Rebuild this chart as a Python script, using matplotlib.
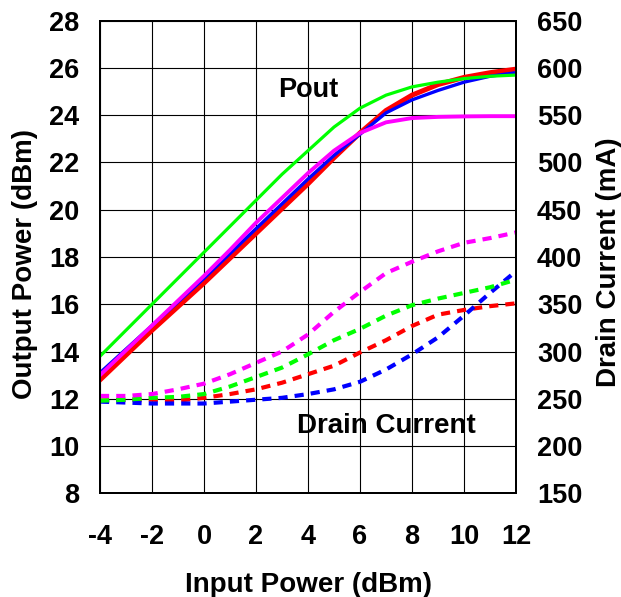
import numpy as np
import matplotlib
matplotlib.use("Agg")
import matplotlib.pyplot as plt

plt.rcParams['font.family'] = ['Liberation Sans', 'DejaVu Sans']
plt.rcParams['font.weight'] = 'bold'

# input power (dBm)
pin = [-4, -3, -2, -1, 0, 1, 2, 3, 4, 5, 6, 7, 8, 9, 10, 11, 12]

# output power (dBm), one per curve
pout_red = [12.8, 13.85, 14.9, 15.9, 16.9, 17.95, 19.0, 20.05, 21.1, 22.2, 23.25, 24.2, 24.85, 25.3, 25.6, 25.8, 25.95]
pout_blue = [13.1, 14.1, 15.1, 16.1, 17.1, 18.15, 19.2, 20.25, 21.3, 22.3, 23.2, 24.1, 24.65, 25.05, 25.4, 25.65, 25.8]
pout_magenta = [13.0, 14.05, 15.1, 16.15, 17.2, 18.3, 19.45, 20.5, 21.55, 22.5, 23.25, 23.7, 23.88, 23.93, 23.95, 23.96, 23.96]
pout_green = [13.8, 14.9, 16.0, 17.1, 18.2, 19.3, 20.4, 21.5, 22.5, 23.5, 24.3, 24.85, 25.2, 25.4, 25.55, 25.65, 25.7]

# drain current (mA)
id_red = [248, 249, 249, 248, 251, 255, 260, 267, 276, 285, 299, 312, 327, 339, 344, 348, 351]
id_blue = [247, 246, 245, 245, 245, 247, 249, 251, 255, 260, 268, 281, 297, 315, 338, 362, 385]
id_magenta = [253, 253, 255, 260, 266, 276, 288, 300, 318, 342, 363, 383, 395, 406, 415, 420, 426]
id_green = [248, 249, 251, 252, 255, 263, 273, 283, 297, 312, 324, 338, 349, 356, 362, 368, 376]

xticks = np.arange(-4, 13, 2)
yticks_left = np.arange(8, 29, 2)
yticks_right = np.arange(150, 651, 50)

fig = plt.figure(figsize=(6.21, 5.97), dpi=100)
ax = fig.add_axes([0.161, 0.1737, 0.670, 0.7916])
ax2 = ax.twinx()

# solid Pout curves
ax.plot(pin, pout_red, color='#ff0000', lw=3.6, zorder=3)
ax.plot(pin, pout_blue, color='#0000ff', lw=2.4, zorder=3)
ax.plot(pin, pout_magenta, color='#ff00ff', lw=2.8, zorder=3)
ax.plot(pin, pout_green, color='#00ff00', lw=2.3, zorder=3)

# dashed drain current curves
dash = (2.2, 1.7)
for vals, c in [(id_red, '#ff0000'), (id_blue, '#0000ff'),
                (id_green, '#00ff00'), (id_magenta, '#ff00ff')]:
    ax2.plot(pin, vals, color=c, lw=3.0, dashes=dash, dash_capstyle='butt')

ax.set_xlim(-4, 12)
ax.set_ylim(8, 28)
ax2.set_ylim(150, 650)
ax.set_xticks(xticks)
ax.set_yticks(yticks_left)
ax2.set_yticks(yticks_right)
ax.set_xticklabels([str(v) for v in xticks])

ax.grid(True, color='black', lw=0.8)
ax.tick_params(axis='x', length=0, pad=22, labelsize=19.5)
ax.tick_params(axis='y', length=0, pad=15, labelsize=19.5)
ax2.tick_params(axis='y', length=0, pad=15, labelsize=19.5)
for sp in list(ax.spines.values()) + list(ax2.spines.values()):
    sp.set_linewidth(1.4)
    sp.set_color('black')

ax.set_xlabel('Input Power (dBm)', fontsize=20, fontweight='bold', labelpad=16)
ax.set_ylabel('Output Power (dBm)', fontsize=20, fontweight='bold', labelpad=8)
ax2.set_ylabel('Drain Current (mA)', fontsize=20, fontweight='bold', labelpad=10)
ax.yaxis.label.set_y(0.485)
ax2.yaxis.label.set_y(0.49)

ax.text(2.85, 24.76, 'Pout', fontsize=19.5, fontweight='bold', ha='left', va='baseline')
ax.text(3.58, 10.55, 'Drain Current', fontsize=20, fontweight='bold', ha='left', va='baseline')

fig.savefig('out.png', dpi=100)
